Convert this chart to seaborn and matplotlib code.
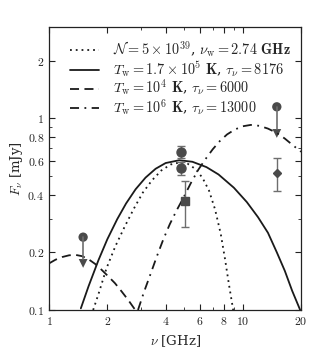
import numpy as np
import pandas as pd
import matplotlib
matplotlib.use("Agg")
import matplotlib.pyplot as plt
import seaborn as sns
from matplotlib.ticker import FixedLocator, NullFormatter

# model curves, values (GHz, mJy)
dot_f = [1.69, 1.8, 1.98, 2.2, 2.47, 2.75, 3.05, 3.4, 3.8, 4.25, 4.75, 5.2, 5.7, 6.2, 6.7, 7.2, 7.7, 8.1, 8.5, 8.93]
dot_y = [0.1, 0.121, 0.165, 0.215, 0.275, 0.34, 0.41, 0.475, 0.535, 0.575, 0.59, 0.58, 0.545, 0.49, 0.42, 0.335, 0.25, 0.185, 0.135, 0.1]

solid_f = [1.46, 1.6, 1.8, 2.0, 2.25, 2.5, 2.8, 3.15, 3.55, 4.0, 4.7, 5.5, 6.5, 7.5, 9.0, 10.5, 12.0, 13.5, 15.0, 16.5, 18.0, 19.8, 20.0]
solid_y = [0.102, 0.133, 0.182, 0.234, 0.298, 0.36, 0.427, 0.491, 0.546, 0.585, 0.605, 0.594, 0.557, 0.51, 0.435, 0.366, 0.305, 0.253, 0.2, 0.16, 0.126, 0.1, 0.098]

dash_f = [1.0, 1.08, 1.17, 1.27, 1.37, 1.48, 1.6, 1.73, 1.87, 2.02, 2.19, 2.37, 2.56, 2.75, 2.8]
dash_y = [0.175, 0.183, 0.189, 0.193, 0.194, 0.191, 0.184, 0.174, 0.162, 0.15, 0.138, 0.125, 0.113, 0.102, 0.1]

dashdot_f = [2.88, 3.1, 3.35, 3.6, 3.9, 4.2, 4.55, 4.94, 5.4, 5.9, 6.4, 7.0, 7.6, 8.3, 9.1, 10.0, 11.0, 12.2, 13.5, 15.0, 16.5, 18.0, 20.0]
dashdot_y = [0.1, 0.125, 0.155, 0.19, 0.235, 0.28, 0.33, 0.385, 0.46, 0.54, 0.61, 0.69, 0.76, 0.825, 0.875, 0.91, 0.925, 0.915, 0.885, 0.84, 0.785, 0.73, 0.67]

labels = [r"$\mathcal{N} = 5\times10^{39}$, $\nu_{\rm w} = 2.74$ $\mathbf{GHz}$",
          r"$T_{\rm w} = 1.7\times10^{5}$ $\mathbf{K}$, $\tau_\nu = 8176$",
          r"$T_{\rm w} = 10^{4}$ $\mathbf{K}$, $\tau_\nu = 6000$",
          r"$T_{\rm w} = 10^{6}$ $\mathbf{K}$, $\tau_\nu = 13000$"]

# observations
circ_f = [4.8, 4.8]
circ_y = [0.67, 0.55]
circ_err = [0.05, 0.045]
sq_f = [5.05]
sq_y = [0.37]
sq_err = [0.1]
dia_f = [15.0]
dia_y = [0.52]
dia_err = [0.1]
ul_f = [1.5, 15.0]
ul_y = [0.24, 1.15]
ul_tip = [0.175, 0.835]

xt = [1, 2, 4, 6, 8, 10, 20]
yt = [0.1, 0.2, 0.4, 0.6, 0.8, 1, 2]
yt_labels = ["0.1", "0.2", "0.4", "0.6", "0.8", "1", "2"]

sns.set_theme(style="ticks")
plt.rcParams["font.family"] = ["DejaVu Serif"]
plt.rcParams["mathtext.fontset"] = "cm"
plt.rcParams["font.size"] = 9

fig = plt.figure(figsize=(3.15, 3.55), dpi=100)
ax = fig.add_axes([0.1556, 0.1268, 0.8, 0.797])

sns.lineplot(x=dot_f, y=dot_y, ax=ax, color="k", lw=1.3, linestyle=(0, (1, 2.2)), label=labels[0])
sns.lineplot(x=solid_f, y=solid_y, ax=ax, color="k", lw=1.3, label=labels[1])
sns.lineplot(x=dash_f, y=dash_y, ax=ax, color="k", lw=1.3, linestyle=(0, (5, 3)), label=labels[2])
sns.lineplot(x=dashdot_f, y=dashdot_y, ax=ax, color="k", lw=1.3, linestyle=(0, (5, 3, 1, 3)), label=labels[3])

mc = "#4a4a4a"
ec = "#6e6e6e"
ax.errorbar(circ_f, circ_y, yerr=circ_err, fmt="o", color=mc, ecolor=ec, ms=6.5, capsize=3, elinewidth=1)
ax.errorbar(sq_f, sq_y, yerr=sq_err, fmt="s", color=mc, ecolor=ec, ms=6, capsize=3, elinewidth=1)
ax.errorbar(dia_f, dia_y, yerr=dia_err, fmt="D", color=mc, ecolor=ec, ms=4.5, capsize=3, elinewidth=1)
for f, y0, y1 in zip(ul_f, ul_y, ul_tip):
    ax.plot([f, f], [y0, y1 * 1.05], color=ec, lw=1.2)
sns.scatterplot(x=ul_f, y=ul_y, ax=ax, color=mc, s=45, marker="o", edgecolor="none")
sns.scatterplot(x=ul_f, y=ul_tip, ax=ax, color=mc, s=40, marker="v", edgecolor="none")

ax.set_xscale("log")
ax.set_yscale("log")
ax.set_xlim(1, 20)
ax.set_ylim(0.1, 3.0)

ax.xaxis.set_major_locator(FixedLocator(xt))
ax.set_xticklabels(["$%d$" % v for v in xt])
ax.xaxis.set_minor_locator(FixedLocator([3, 5, 7, 9]))
ax.xaxis.set_minor_formatter(NullFormatter())
ax.yaxis.set_major_locator(FixedLocator(yt))
ax.set_yticklabels(["$%s$" % s for s in yt_labels])
ax.yaxis.set_minor_locator(FixedLocator([0.3, 0.5, 0.7, 0.9, 3]))
ax.yaxis.set_minor_formatter(NullFormatter())
ax.tick_params(which="both", direction="in", top=True, right=True, labelsize=8.5, colors="#222222")
ax.tick_params(which="major", length=4, width=0.8)
ax.tick_params(which="minor", length=2.5, width=0.6)
for s in ax.spines.values():
    s.set_linewidth(0.9)
    s.set_color("#222222")

ax.set_xlabel(r"$\nu$ [GHz]", fontsize=9.5)
ax.set_ylabel(r"$F_\nu$ [mJy]", fontsize=9.5, labelpad=2)

ax.legend(loc="upper left", bbox_to_anchor=(0.05, 0.985), frameon=False, fontsize=10.3,
          handlelength=2.0, labelspacing=-0.05, handletextpad=1.0, borderaxespad=0.2)

fig.savefig("out.png", dpi=100)
